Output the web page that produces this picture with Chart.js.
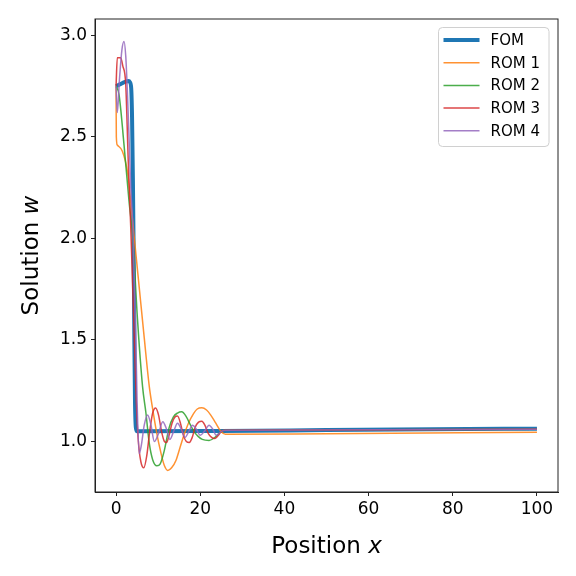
<!DOCTYPE html>
<html>
<head>
<meta charset="utf-8">
<script src="https://cdn.jsdelivr.net/npm/chart.js@4"></script>
<style>
  body { margin: 0; background: #fff; }
  canvas { display: block; }
</style>
</head>
<body>
<canvas id="myChart" width="576" height="576"></canvas>
<script>
// data
const xFom = [0, 1, 2, 3, 3.3, 3.6, 3.8, 4.0, 4.2, 4.35, 4.5, 4.7, 5.0, 25, 50, 75, 100];
const yFom = [2.75, 2.76, 2.77, 2.775, 2.77, 2.74, 2.6, 2.3, 1.9, 1.5, 1.2, 1.07, 1.05, 1.052, 1.056, 1.06, 1.063];

const xRom1 = [0, 0.07, 0.3, 1.5, 2.7, 3.5, 4.35, 5.5, 6.7, 7.9, 8.7, 9.5, 10.7, 11.5, 12.3, 13.2, 14.2, 15.2, 16.2, 17.2, 18.2, 19.3, 20.4, 21.5, 22.5, 23.7, 24.9, 26, 50, 100];
const yRom1 = [2.75, 2.5, 2.46, 2.43, 2.33, 2.18, 2.0, 1.76, 1.51, 1.27, 1.16, 1.06, 0.94, 0.88, 0.857, 0.87, 0.905, 0.97, 1.035, 1.09, 1.13, 1.16, 1.166, 1.155, 1.13, 1.09, 1.05, 1.035, 1.038, 1.045];

const xRom2 = [0, 0.7, 1.9, 3.1, 3.95, 5.1, 6.3, 7.1, 7.9, 8.7, 9.7, 10.5, 11.4, 12.6, 13.6, 14.6, 15.6, 16.6, 17.7, 18.5, 19.5, 20.5, 22.1, 23.5, 25, 26, 100];
const yRom2 = [2.75, 2.71, 2.46, 2.18, 2.01, 1.6, 1.27, 1.14, 0.99, 0.91, 0.88, 0.89, 0.95, 1.067, 1.12, 1.14, 1.146, 1.125, 1.08, 1.05, 1.025, 1.01, 1.005, 1.02, 1.05, 1.055, 1.06];

const xRom3 = [0, 0.3, 1.1, 1.6, 2.3, 2.9, 3.5, 4.2, 4.8, 5.3, 5.9, 6.6, 7.3, 8.0, 8.7, 9.4, 10.1, 10.8, 11.5, 12.0, 12.6, 13.3, 14.0, 14.6, 15.3, 16.0, 16.7, 17.4, 18.1, 18.8, 19.6, 20.4, 21.1, 21.9, 22.7, 23.5, 24.3, 25, 26, 100];
const yRom3 = [2.75, 2.89, 2.89, 2.85, 2.76, 2.38, 2.05, 1.6, 1.2, 1.0, 0.9, 0.87, 0.93, 1.05, 1.14, 1.165, 1.13, 1.05, 1.0, 0.995, 1.03, 1.09, 1.12, 1.125, 1.09, 1.03, 1.0, 0.995, 1.02, 1.07, 1.095, 1.1, 1.08, 1.04, 1.02, 1.015, 1.03, 1.05, 1.055, 1.06];

const xRom4 = [0, 0.3, 0.8, 1.4, 1.9, 2.3, 2.6, 3.0, 3.5, 4.0, 4.6, 5.0, 5.5, 6.0, 6.7, 7.5, 8.3, 9.1, 10.1, 11.1, 12.0, 12.8, 13.7, 14.6, 15.5, 16.4, 17.3, 18.2, 19.1, 20.0, 21.0, 22.1, 23.0, 23.8, 25, 26, 100];
const yRom4 = [2.75, 2.62, 2.78, 2.93, 2.97, 2.9, 2.77, 2.55, 2.25, 2.05, 1.6, 1.2, 0.94, 0.98, 1.08, 1.13, 1.08, 1.0, 1.04, 1.097, 1.06, 1.01, 1.05, 1.09, 1.06, 1.02, 1.05, 1.08, 1.06, 1.03, 1.05, 1.08, 1.06, 1.03, 1.05, 1.055, 1.06];

const names = ["FOM", "ROM 1", "ROM 2", "ROM 3", "ROM 4"];
const colors = ["#1f77b4", "rgba(255,127,14,0.85)", "rgba(44,160,44,0.85)", "rgba(214,39,40,0.85)", "rgba(148,103,189,0.85)"];

function pts(xs, ys) {
  return xs.map((x, i) => ({ x: x, y: ys[i] }));
}

const series = [pts(xFom, yFom), pts(xRom1, yRom1), pts(xRom2, yRom2), pts(xRom3, yRom3), pts(xRom4, yRom4)];

const datasets = series.map((d, i) => ({
  label: names[i],
  data: d,
  borderColor: colors[i],
  borderWidth: i == 0 ? 4 : 1.5,
  pointRadius: 0,
  fill: false,
  cubicInterpolationMode: "monotone",
  order: 5 - i,
}));

const font = "DejaVu Sans";

// frame, axis labels, legend
const extras = {
  id: "extras",
  beforeDraw(chart) {
    const c = chart.ctx;
    c.save();
    c.fillStyle = "#fff";
    c.fillRect(0, 0, chart.width, chart.height);
    c.restore();
  },
  afterDraw(chart) {
    const c = chart.ctx;
    const a = chart.chartArea;
    c.save();
    c.strokeStyle = "#222";
    c.lineWidth = 1;
    c.strokeRect(a.left, a.top, a.right - a.left, a.bottom - a.top);

    // x title
    c.fillStyle = "#000";
    c.textBaseline = "alphabetic";
    const t1 = "Position ";
    c.font = "23px '" + font + "'";
    const w1 = c.measureText(t1).width;
    c.font = "italic 23px '" + font + "'";
    const w2 = c.measureText("x").width;
    let x0 = (a.left + a.right) / 2 - (w1 + w2) / 2;
    c.textAlign = "left";
    c.font = "23px '" + font + "'";
    c.fillText(t1, x0, 553);
    c.font = "italic 23px '" + font + "'";
    c.fillText("x", x0 + w1, 553);

    // y title
    c.translate(38, (a.top + a.bottom) / 2);
    c.rotate(-Math.PI / 2);
    const t2 = "Solution ";
    c.font = "23px '" + font + "'";
    const w3 = c.measureText(t2).width;
    c.font = "italic 23px '" + font + "'";
    const w4 = c.measureText("w").width;
    x0 = -(w3 + w4) / 2;
    c.font = "23px '" + font + "'";
    c.fillText(t2, x0, 0);
    c.font = "italic 23px '" + font + "'";
    c.fillText("w", x0 + w3, 0);
    c.restore();

    // legend
    c.save();
    const bx = 438.5, by = 27.5, bw = 110.5, bh = 119;
    c.beginPath();
    c.roundRect(bx, by, bw, bh, 4);
    c.fillStyle = "rgba(255,255,255,0.8)";
    c.fill();
    c.strokeStyle = "#d0d0d0";
    c.lineWidth = 1;
    c.stroke();
    c.font = "15px '" + font + "'";
    c.textBaseline = "middle";
    c.textAlign = "left";
    for (let i = 0; i < names.length; i++) {
      const y = 40 + i * 22.7;
      c.beginPath();
      c.moveTo(443.5, y);
      c.lineTo(479.5, y);
      c.strokeStyle = colors[i];
      c.lineWidth = i == 0 ? 4 : 1.5;
      c.stroke();
      c.fillStyle = "#000";
      c.fillText(names[i], 490.5, y + 1);
    }
    c.restore();
  },
};

const ctx = document.getElementById("myChart");
const myChart = new Chart(ctx, {
  type: "line",
  data: { datasets: datasets },
  options: {
    responsive: false,
    animation: false,
    layout: { padding: { top: 19, right: 18, left: 0, bottom: 0 } },
    plugins: { legend: { display: false }, tooltip: { enabled: false } },
    scales: {
      x: {
        type: "linear",
        min: -5,
        max: 105,
        afterFit(scale) { scale.height = 84; },
        grid: { drawOnChartArea: false, drawTicks: true, tickLength: 4, color: "#222" },
        border: { display: true, color: "#222" },
        ticks: {
          stepSize: 20,
          includeBounds: false,
          maxRotation: 0,
          padding: 3,
          color: "#000",
          font: { family: font, size: 17 },
          callback: (v) => String(v),
        },
      },
      y: {
        type: "linear",
        min: 0.751,
        max: 3.081,
        afterFit(scale) { scale.width = 95; },
        grid: { drawOnChartArea: false, drawTicks: true, tickLength: 4, color: "#222" },
        border: { display: true, color: "#222" },
        ticks: {
          stepSize: 0.5,
          includeBounds: false,
          padding: 4,
          color: "#000",
          font: { family: font, size: 17 },
          callback: (v) => v.toFixed(1),
        },
      },
    },
  },
  plugins: [extras],
});
</script>
</body>
</html>
